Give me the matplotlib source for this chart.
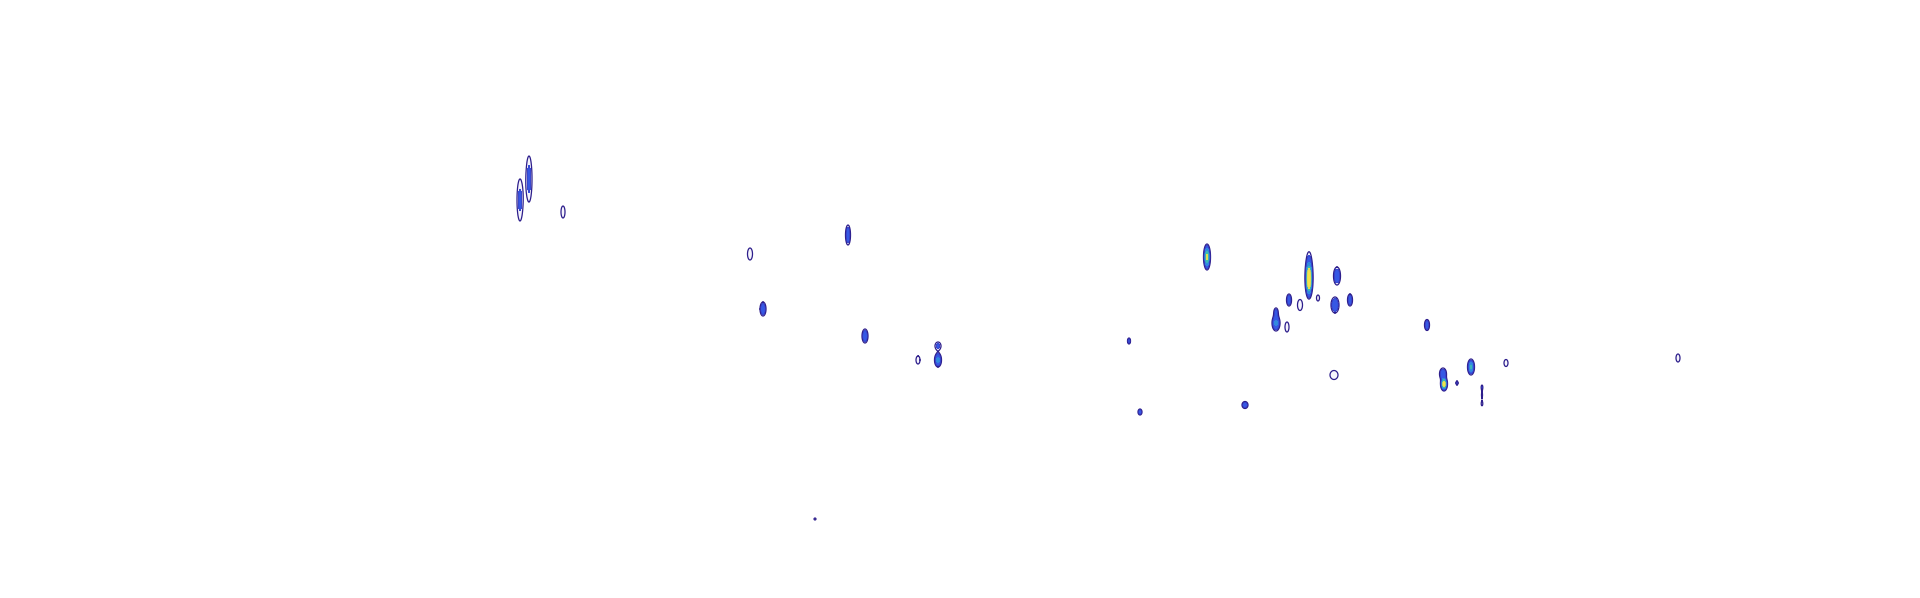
import numpy as np
import matplotlib
matplotlib.use("Agg")
import matplotlib.pyplot as plt

# Density clusters (chart coordinates, y down)
cx = [520, 529, 563, 750, 848, 763, 865, 918, 938, 938, 1129, 1140, 1207, 1245,
      1309, 1309, 1337, 1289, 1300, 1318, 1335, 1350, 1276, 1276, 1287, 1334,
      1427, 1443, 1444, 1457, 1471, 1506, 1482, 1482, 1482, 1678, 815]
cy = [200, 179, 212, 254, 235, 309, 336, 360, 346, 360, 341, 412, 257, 405,
      279, 262, 276, 300, 305, 298, 305, 300, 323, 312, 327, 375,
      325, 374, 384, 383, 367, 363, 387, 395, 404, 358, 519]
half_w = [3, 3, 2, 2.5, 2.5, 3, 3, 2, 3, 3.5, 1.5, 2, 3.5, 3,
          4, 2, 3.5, 2.5, 2.5, 1.5, 4, 2.5, 4, 2, 2, 4,
          2.5, 3.5, 3.5, 1, 3.5, 2, 0.5, 0.5, 0.5, 2, 1]
half_h = [21, 23, 6, 6, 10, 7, 7, 4, 4, 7, 3, 3, 13, 3.5,
          20, 9, 9, 6, 5.5, 3, 8, 6, 8, 4, 5, 4.5,
          5.5, 6, 7, 2, 8, 3.5, 1.2, 3.5, 1.2, 4, 1]
peak = [0.19, 0.2, 0.14, 0.14, 0.3, 0.3, 0.3, 0.14, 0.2, 0.5, 0.3, 0.3, 0.95, 0.3,
        1.5, 0.14, 0.32, 0.3, 0.14, 0.14, 0.35, 0.3, 0.45, 0.2, 0.14, 0.13,
        0.3, 0.35, 1.2, 0.2, 0.7, 0.15, 0.12, 0.12, 0.12, 0.14, 0.14]

levels = [0.1, 0.16, 0.4, 0.62, 0.85, 5.0]
fill_colors = ["#f6f5fc", "#3658e4", "#2f90de", "#3cc2ae", "#f4e34a"]
line_colors = ["#2d1e8c", "#3a3cc0", "#3a72e0", "#3aa8c8", "#c8d860"]

W, H = 1920, 598
xs = np.arange(0, W, 0.5)
ys = np.arange(0, H, 0.5)
X, Y = np.meshgrid(xs, ys)
Z = np.zeros_like(X)
base = levels[0]
for x0, y0, hw, hh, a in zip(cx, cy, half_w, half_h, peak):
    k = np.sqrt(2 * np.log(a / base))
    sx, sy = hw / k, hh / k
    m = (np.abs(X - x0) < 8 * sx + 5) & (np.abs(Y - y0) < 8 * sy + 5)
    Z[m] += a * np.exp(-0.5 * (((X[m] - x0) / sx) ** 2 + ((Y[m] - y0) / sy) ** 2))

fig = plt.figure(figsize=(19.2, 5.98), dpi=100)
ax = fig.add_axes([0, 0, 1, 1])
ax.contourf(X, Y, Z, levels=levels, colors=fill_colors)
ax.contour(X, Y, Z, levels=levels[:-1], colors=line_colors, linewidths=[0.9, 0.4, 0.3, 0.3, 0.3])
ax.set_xlim(0, W)
ax.set_ylim(H, 0)
ax.axis("off")
fig.savefig("out.png", dpi=100, facecolor="white")
